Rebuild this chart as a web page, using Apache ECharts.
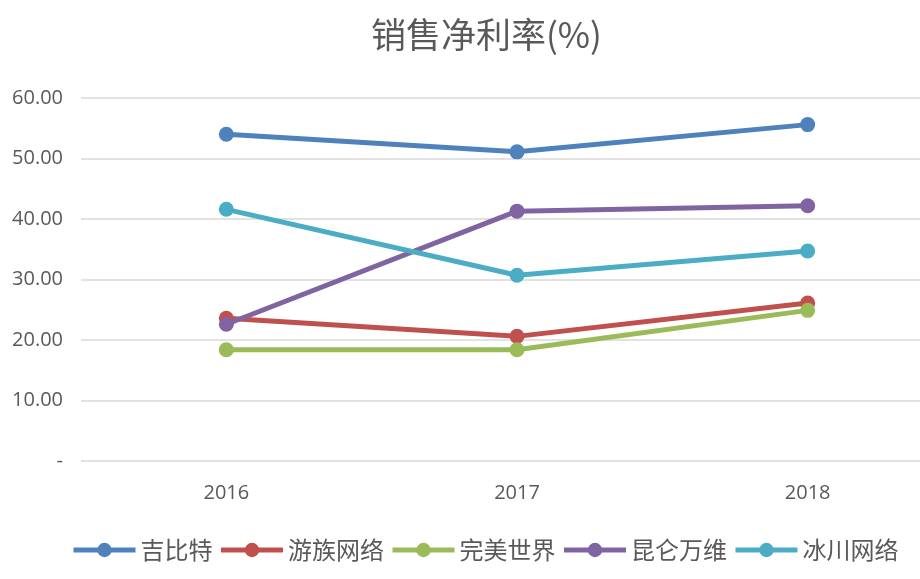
<!DOCTYPE html>
<html>
<head>
<meta charset="utf-8">
<script src="https://cdn.jsdelivr.net/npm/echarts@6/dist/echarts.min.js"></script>
<style>
  html, body { margin: 0; padding: 0; background: #fff; }
  #main { width: 920px; height: 579px; }
</style>
</head>
<body>
<div id="main"></div>
<script>
// 年份
var years = ['2016', '2017', '2018'];
// 各公司销售净利率(%)
var jibite = [54.0, 51.1, 55.6];
var youzu = [23.6, 20.6, 26.1];
var wanmei = [18.4, 18.4, 24.9];
var kunlun = [22.6, 41.3, 42.2];
var bingchuan = [41.6, 30.7, 34.7];
var names = ['吉比特', '游族网络', '完美世界', '昆仑万维', '冰川网络'];
var colors = ['#4F81BD', '#C0504D', '#9BBB59', '#8064A2', '#4BACC6'];

var chart = echarts.init(document.getElementById('main'));

function makeSeries(name, data, color) {
  return {
    name: name,
    type: 'line',
    data: data,
    symbol: 'circle',
    symbolSize: 15,
    lineStyle: { width: 5, color: color },
    itemStyle: { color: color },
    emphasis: { disabled: true }
  };
}

var option = {
  animation: false,
  title: {
    text: '销售净利率(%)',
    left: 366,
    top: 12,
    textStyle: {
      fontFamily: 'Noto Sans CJK SC',
      fontSize: 35,
      fontWeight: 'normal',
      color: '#595959'
    }
  },
  legend: {
    top: 533,
    left: 66,
    itemWidth: 62,
    itemHeight: 18,
    itemGap: 6,
    lineStyle: { width: 5 },
    textStyle: {
      fontFamily: 'Noto Sans CJK SC',
      fontSize: 24,
      color: '#595959'
    },
    data: names
  },
  grid: {
    left: 81,
    right: -33,
    top: 98,
    bottom: 118,
    outerBoundsMode: 'none'
  },
  xAxis: {
    type: 'category',
    data: years,
    boundaryGap: true,
    axisLine: { show: false },
    axisTick: { show: false },
    axisLabel: {
      fontFamily: 'Open Sans',
      fontSize: 20,
      color: '#595959',
      margin: 22
    }
  },
  yAxis: {
    type: 'value',
    min: 0,
    max: 60,
    interval: 10,
    axisLine: { show: false },
    axisTick: { show: false },
    axisLabel: {
      fontFamily: 'Open Sans',
      fontSize: 20,
      color: '#595959',
      margin: 18,
      formatter: function (v) { return v === 0 ? '-' : v.toFixed(2); }
    },
    splitLine: { lineStyle: { color: '#D9D9D9', width: 1.5 } }
  },
  series: [
    makeSeries(names[0], jibite, colors[0]),
    makeSeries(names[1], youzu, colors[1]),
    makeSeries(names[2], wanmei, colors[2]),
    makeSeries(names[3], kunlun, colors[3]),
    makeSeries(names[4], bingchuan, colors[4])
  ]
};

chart.setOption(option);
</script>
</body>
</html>
